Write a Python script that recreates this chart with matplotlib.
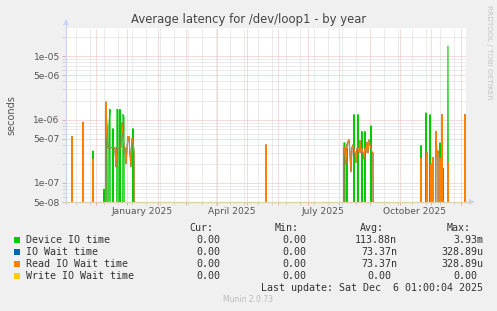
import matplotlib
matplotlib.use('Agg')
import matplotlib.pyplot as plt
import matplotlib.dates as mdates
import matplotlib.transforms as mtransforms
from matplotlib.ticker import FixedLocator, FixedFormatter, NullFormatter
from matplotlib.patches import Rectangle, Polygon
import numpy as np
import pandas as pd

# ---------------- data ----------------
end_time = pd.Timestamp('2025-12-06 01:00:04')
start_time = end_time - pd.Timedelta(days=400)

device_dates = ['2024-11-07', '2024-11-28', '2024-12-09', '2024-12-11', '2024-12-12',
                '2024-12-14', '2024-12-15', '2024-12-18', '2024-12-22', '2024-12-23',
                '2024-12-25', '2024-12-28', '2024-12-29', '2025-01-07', '2025-05-20',
                '2025-08-06', '2025-08-07', '2025-08-09', '2025-08-16', '2025-08-20',
                '2025-08-24', '2025-08-27', '2025-09-02', '2025-10-22', '2025-10-27',
                '2025-10-31', '2025-11-10', '2025-11-13', '2025-11-18']
device_vals = [4.8e-7, 3.2e-7, 8e-8, 1.0e-6, 8e-7,
               8e-7, 1.45e-6, 7.2e-7, 1.45e-6, 1.4e-6,
               1.45e-6, 1.2e-6, 1.1e-6, 7.2e-7, 3.5e-7,
               4.3e-7, 4.3e-7, 3.5e-7, 1.2e-6, 1.2e-6,
               6.5e-7, 6.5e-7, 8e-7, 3.9e-7, 1.28e-6,
               1.2e-6, 4.3e-7, 1.7e-7, 1.45e-5]

read_dates = ['2024-11-07', '2024-11-18', '2024-11-28',
              '2024-12-11', '2024-12-12', '2024-12-13', '2024-12-14', '2024-12-15',
              '2024-12-16', '2024-12-17', '2024-12-18', '2024-12-19', '2024-12-20',
              '2024-12-21', '2024-12-22', '2024-12-23', '2024-12-24', '2024-12-25',
              '2024-12-26', '2024-12-27', '2024-12-28', '2024-12-29', '2024-12-30',
              '2024-12-31', '2025-01-01', '2025-01-02', '2025-01-03', '2025-01-04',
              '2025-01-05', '2025-01-06', '2025-01-07', '2025-01-08',
              '2025-05-20',
              '2025-08-06', '2025-08-07', '2025-08-08', '2025-08-09', '2025-08-10',
              '2025-08-11', '2025-08-12', '2025-08-13', '2025-08-14', '2025-08-15',
              '2025-08-16', '2025-08-17', '2025-08-18', '2025-08-19', '2025-08-20',
              '2025-08-21', '2025-08-22', '2025-08-23', '2025-08-24', '2025-08-25',
              '2025-08-26', '2025-08-27', '2025-08-28', '2025-08-29', '2025-08-30',
              '2025-08-31', '2025-09-01', '2025-09-02', '2025-09-03', '2025-09-04',
              '2025-10-22', '2025-10-28', '2025-11-01', '2025-11-03', '2025-11-06',
              '2025-11-07', '2025-11-08', '2025-11-10', '2025-11-12', '2025-11-18',
              '2025-12-05']
read_vals = [5.4e-7, 9.1e-7, 2.4e-7,
             1.9e-6, 6e-7, 3.6e-7, 3.6e-7, 3.6e-7,
             3.6e-7, 3.6e-7, 3.6e-7, 3.6e-7, 3.6e-7,
             1.8e-7, 3.6e-7, 3.6e-7, 3.6e-7, 3.6e-7,
             3.6e-7, 9e-7, 6e-7, 3.6e-7, 3.6e-7,
             2.0e-7, 3.4e-7, 5.4e-7, 5.4e-7, 3e-7,
             1.8e-7, 5e-7, 5e-7, 3e-7,
             4e-7,
             3.6e-7, 3.6e-7, 2.0e-7, 4.0e-7, 4.5e-7,
             4.8e-7, 3.0e-7, 1.5e-7, 3.6e-7, 4.0e-7,
             3.5e-7, 3.0e-7, 2.1e-7, 3.5e-7, 3.6e-7,
             3.0e-7, 4.7e-7, 3.0e-7, 3.5e-7, 3.0e-7,
             2.4e-7, 3.6e-7, 3.0e-7, 4.4e-7, 3.0e-7,
             4.8e-7, 4.0e-7, 3.6e-7, 3.0e-7, 3.0e-7,
             2.5e-7, 3e-7, 2e-7, 2.5e-7, 6.5e-7,
             2.5e-7, 3.2e-7, 2.5e-7, 1.2e-6, 2.1e-7,
             1.2e-6]

io_wait_dates = read_dates
io_wait_vals = read_vals

ytick_vals = [5e-8, 1e-7, 5e-7, 1e-6, 5e-6, 1e-5]
ytick_labels = ['5e-08', '1e-07', '5e-07', '1e-06', '5e-06', '1e-05']
xtick_labels = ['January 2025', 'April 2025', 'July 2025', 'October 2025']
xlabel_dates = ['2025-01-16', '2025-04-16', '2025-07-16', '2025-10-16']

legend_labels = ['Device IO time', 'IO Wait time', 'Read IO Wait time', 'Write IO Wait time']
legend_colors = ['#00CC00', '#0066B3', '#FF8000', '#FFCC00']
cur_vals = ['0.00', '0.00', '0.00', '0.00']
min_vals = ['0.00', '0.00', '0.00', '0.00']
avg_vals = ['113.88n', '73.37n', '73.37n', '0.00']
max_vals = ['3.93m', '328.89u', '328.89u', '0.00']

# ---------------- figure ----------------
W, H = 497, 311
fig = plt.figure(figsize=(W / 100, H / 100), dpi=100, facecolor='#F0F0F0')


def fx(x):
    return x / W


def fy(y):
    return 1 - y / H


L, R, T, B = 66, 466, 27.5, 202
ax = fig.add_axes([fx(L), fy(B), (R - L) / W, (B - T) / H])
ax.set_facecolor('white')
ax.set_yscale('log')
ax.set_ylim(5e-8, 2.85e-5)
ax.set_xlim(start_time, end_time)
for s in ax.spines.values():
    s.set_visible(False)

days = pd.date_range('2024-11-02', '2025-12-06', freq='D')
floor = 1e-12


def daily(dates, vals):
    s = pd.Series(0.0, index=days)
    s.loc[pd.to_datetime(dates)] = vals
    return np.where(s.values > 0, s.values, floor)


dev = daily(device_dates, device_vals)
iow = daily(io_wait_dates, io_wait_vals)
rd = daily(read_dates, read_vals)
wr = np.full(len(days), floor)

lw = 0.8
ax.plot(days, dev, color=legend_colors[0], lw=lw, zorder=3)
ax.plot(days, iow, color=legend_colors[1], lw=lw, zorder=4)
ax.plot(days, rd, color=legend_colors[2], lw=lw, zorder=5)
ax.plot(days, wr, color=legend_colors[3], lw=lw, zorder=6)

major_c = '#EFB9B9'
minor_c = '#D9D9D9'
dot = (0, (1, 1))

# y ticks / grid
ax.yaxis.set_major_locator(FixedLocator(ytick_vals))
ax.yaxis.set_major_formatter(FixedFormatter(ytick_labels))
minors = []
for dec in [1e-8, 1e-7, 1e-6, 1e-5]:
    for m in range(2, 10):
        v = m * dec
        if 5e-8 < v < 2.85e-5 and not any(abs(v - t) / t < 1e-6 for t in ytick_vals):
            minors.append(v)
ax.yaxis.set_minor_locator(FixedLocator(minors))
ax.yaxis.set_minor_formatter(NullFormatter())
ax.tick_params(axis='y', which='major', length=3, width=0.7, color='#EBA9A9',
               labelsize=6.6, labelcolor='#555555', pad=1.5)
ax.tick_params(axis='y', which='minor', length=3, width=0.7, color='#D4D4D4')

# x ticks / grid
ax.xaxis.set_major_locator(mdates.MonthLocator())
ax.xaxis.set_major_formatter(NullFormatter())
biweekly = pd.date_range('2024-11-11', '2025-12-06', freq='14D')
ax.xaxis.set_minor_locator(FixedLocator(mdates.date2num(biweekly)))
ax.xaxis.set_minor_formatter(NullFormatter())
ax.tick_params(axis='x', which='major', length=2.5, width=0.7, color='#EBA9A9')
ax.tick_params(axis='x', which='minor', length=2.5, width=0.7, color='#D4D4D4')

ax.grid(True, which='minor', color=minor_c, ls=dot, lw=0.72)
ax.grid(True, which='major', color=major_c, ls=dot, lw=0.72)
ax.set_axisbelow(True)

trans = mtransforms.blended_transform_factory(ax.transData, ax.transAxes)
for lbl, d in zip(xtick_labels, xlabel_dates):
    ax.text(pd.Timestamp(d), -0.03, lbl, transform=trans, ha='center', va='top',
            fontsize=6.6, color='#555555')

# axis lines + arrows
axis_c = '#CCD4F4'
fig.add_artist(plt.Line2D([fx(L), fx(L)], [fy(B + 2), fy(22)], color=axis_c, lw=0.9))
fig.add_artist(Polygon([[fx(L - 3), fy(25)], [fx(L + 3), fy(25)], [fx(L), fy(19)]],
                       closed=True, color=axis_c, lw=0))
fig.add_artist(plt.Line2D([fx(L - 2), fx(470)], [fy(B), fy(B)], color='#DCD0A8', lw=0.9))
fig.add_artist(Polygon([[fx(469), fy(B - 3)], [fx(469), fy(B + 3)], [fx(475), fy(B)]],
                       closed=True, color=axis_c, lw=0))

# title, labels
fig.text(fx(249), fy(19), 'Average latency for /dev/loop1 - by year', ha='center',
         va='center', fontsize=8.4, color='#444444')
fig.text(fx(11), fy(115), 'seconds', rotation=90, ha='center', va='center',
         fontsize=7, color='#555555')
fig.text(fx(489), fy(5), 'RRDTOOL / TOBI OETIKER', rotation=270, ha='center', va='top',
         fontsize=5.3, color='#C4C4C4')

# legend
mono = 'DejaVu Sans Mono'
fs = 7.2
tc = '#333333'
cols = [226, 312, 397, 483.3]
headers = ['Cur:', 'Min:', 'Avg:', 'Max:']
for c, h in zip(cols, headers):
    fig.text(fx(c - 13), fy(228), h, ha='right', va='center', fontsize=fs,
             family=mono, color=tc)
for i, (lab, col) in enumerate(zip(legend_labels, legend_colors)):
    y = 240 + 12 * i
    fig.add_artist(Rectangle((fx(14), fy(y + 3)), 6 / W, 6 / H, color=col, lw=0))
    fig.text(fx(26), fy(y), lab, ha='left', va='center', fontsize=fs, family=mono, color=tc)
    for c, v in zip(cols, [cur_vals[i], min_vals[i], avg_vals[i], max_vals[i]]):
        has_unit = v[-1].isalpha()
        xr = c if has_unit else c - 6
        fig.text(fx(xr), fy(y), v, ha='right', va='center', fontsize=fs,
                 family=mono, color=tc)

fig.text(fx(483.3), fy(288), 'Last update: Sat Dec  6 01:00:04 2025', ha='right',
         va='center', fontsize=fs, family=mono, color=tc)
fig.text(fx(248), fy(300), 'Munin 2.0.73', ha='center', va='center', fontsize=5.5,
         color='#BBBBBB')

fig.savefig('out.png', dpi=100, facecolor=fig.get_facecolor())
